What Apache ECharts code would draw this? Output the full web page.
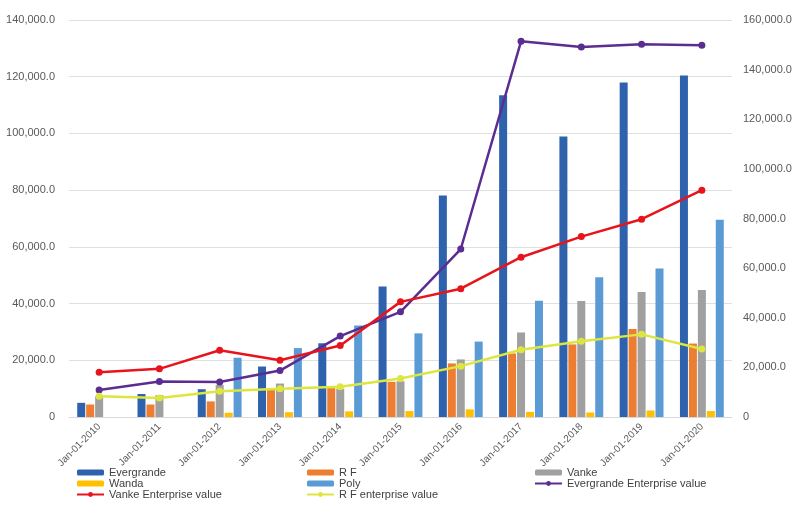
<!DOCTYPE html>
<html>
<head>
<meta charset="utf-8">
<script src="https://cdn.jsdelivr.net/npm/echarts@6/dist/echarts.min.js"></script>
<style>
  html, body { margin: 0; padding: 0; background: #fff; }
  #chart { width: 799px; height: 510px; }
</style>
</head>
<body>
<div id="chart"></div>
<script>
// categories
const years = ['Jan-01-2010', 'Jan-01-2011', 'Jan-01-2012', 'Jan-01-2013', 'Jan-01-2014', 'Jan-01-2015',
  'Jan-01-2016', 'Jan-01-2017', 'Jan-01-2018', 'Jan-01-2019', 'Jan-01-2020']

// bars (left axis)
const evergrande = [5000, 8100, 9800, 17800, 26000, 46000, 78100, 113500, 98900, 118000, 120400]
const rf = [4400, 4400, 5500, 9500, 10200, 12400, 18900, 22400, 25600, 31000, 25900]
const vanke = [7300, 7700, 11300, 11800, 10000, 12600, 20300, 29800, 40900, 44100, 44800]
const wanda = [null, null, 1500, 1700, 2000, 2100, 2700, 1800, 1600, 2300, 2100]
const poly = [null, null, 20900, 24300, 32300, 29500, 26600, 41000, 49300, 52400, 69600]

// lines (right axis)
const vankeEV = [18000, 19400, 26900, 22900, 28800, 46400, 51700, 64400, 72700, 79700, 91400]
const evergrandeEV = [10900, 14300, 14100, 18700, 32600, 42400, 67700, 151400, 149100, 150200, 149800]
const rfEV = [8400, 7700, 10400, 11400, 12200, 15500, 20500, 27100, 30500, 33300, 27400]

// axis ticks
const leftMax = 140000
const rightMax = 160000
const tickStep = 20000

const fmt = (v) => (v === 0 ? '0' : v.toLocaleString('en-US') + '.0')

const myChart = echarts.init(document.getElementById('chart'))

const labelFont = 'Liberation Sans, Arial, sans-serif'
const legendText = { fontSize: 11, color: '#404040', fontFamily: labelFont, lineHeight: 11 }

const barSeries = (name, data, color) => ({
  name,
  type: 'bar',
  data,
  barWidth: 8,
  barGap: '12%',
  itemStyle: { color }
})

const lineSeries = (name, data, color) => ({
  name,
  type: 'line',
  yAxisIndex: 1,
  data,
  symbol: 'circle',
  symbolSize: 7,
  lineStyle: { width: 2.5, color },
  itemStyle: { color },
  z: 5
})

const legendBase = {
  orient: 'vertical',
  top: 467,
  itemWidth: 27,
  itemHeight: 6,
  itemGap: 0,
  textStyle: legendText,
  padding: 0
}

const option = {
  animation: false,
  backgroundColor: '#fff',
  textStyle: { fontFamily: labelFont },
  // three legend columns
  legend: [
    Object.assign({ left: 76, data: ['Evergrande', 'Wanda', 'Vanke Enterprise value'] }, legendBase),
    Object.assign({ left: 306, data: ['R F', 'Poly', 'R F enterprise value'] }, legendBase),
    Object.assign({ left: 534, data: ['Vanke', 'Evergrande Enterprise value'] }, legendBase)
  ],
  grid: {
    left: 69,
    right: 67,
    top: 20,
    bottom: 93
  },
  xAxis: {
    type: 'category',
    data: years,
    axisTick: { show: false },
    axisLine: { lineStyle: { color: '#d9d9d9' } },
    axisLabel: {
      rotate: 45,
      margin: 8,
      fontSize: 10,
      color: '#595959',
      interval: 0
    }
  },
  yAxis: [
    {
      type: 'value',
      min: 0,
      max: leftMax,
      interval: tickStep,
      axisLabel: { formatter: fmt, fontSize: 11, color: '#595959', margin: 14 },
      splitLine: { lineStyle: { color: '#e0e0e0' } }
    },
    {
      type: 'value',
      min: 0,
      max: rightMax,
      interval: tickStep,
      axisLabel: { formatter: fmt, fontSize: 11, color: '#595959', margin: 11 },
      splitLine: { show: false }
    }
  ],
  series: [
    barSeries('Evergrande', evergrande, '#2f62ad'),
    barSeries('R F', rf, '#ed7d31'),
    barSeries('Vanke', vanke, '#a0a0a0'),
    barSeries('Wanda', wanda, '#ffc000'),
    barSeries('Poly', poly, '#5b9bd5'),
    lineSeries('Evergrande Enterprise value', evergrandeEV, '#5c2d91'),
    lineSeries('Vanke Enterprise value', vankeEV, '#e8141c'),
    lineSeries('R F enterprise value', rfEV, '#dce63e')
  ]
}

myChart.setOption(option)
</script>
</body>
</html>
